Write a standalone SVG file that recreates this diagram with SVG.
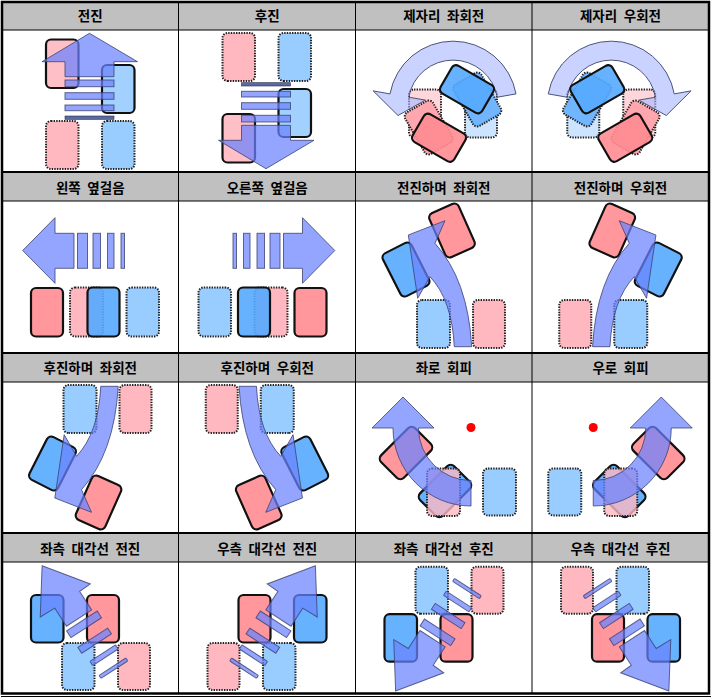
<svg xmlns="http://www.w3.org/2000/svg" width="713" height="700" viewBox="0 0 713 700">
<style>
.hf{fill:#C0C0C0}
.ln{stroke:#000;stroke-width:1;fill:none}
.lt{stroke:#000;stroke-width:2;fill:none}
.hd{font-family:"Noto Sans CJK KR","Noto Sans",sans-serif;font-weight:700;font-size:13.5px;word-spacing:3.5px;text-anchor:middle;fill:#000}
.s{stroke:#111;stroke-width:2.2;fill-opacity:.9}
.g{stroke:#222;stroke-width:2;stroke-dasharray:1.4 1.2}
.fps{fill:#FF8C91}
.fbs{fill:#55AAFF}
.fp{fill:#FFB8C0}
.fb{fill:#99CCFF}
.fp0{fill:#FFD6DB}
.fb0{fill:#CCE4FF}
.fp1{fill:#FFA6AE}
.fb1{fill:#72B5FF}
.ar{fill:#6A82FF;fill-opacity:.72;stroke:#3C4270;stroke-opacity:.8;stroke-width:1}
.band{fill:#A6B4FF;fill-opacity:.6;stroke:#4C5478;stroke-width:1}
.dk{fill:#4A5898;fill-opacity:.9;stroke:#2A2F50;stroke-width:.6}
.dot{fill:#FF0000}
</style>
<rect x="0" y="0" width="713" height="700" fill="#fff"/>
<g id="grid">
<rect class="hf" x="2" y="2" width="707" height="28"/>
<rect class="hf" x="2" y="172" width="707" height="29"/>
<rect class="hf" x="2" y="353" width="707" height="29"/>
<rect class="hf" x="2" y="533" width="707" height="29"/>
<path class="ln" d="M2,30H709M2,201H709M2,382H709M2,562H709M178.5,2V693.5M355.5,2V693.5M532,2V693.5"/>
<path class="lt" d="M2,172H709M2,353H709M2,533H709"/>
<rect x="2" y="2" width="707" height="691.5" fill="none" stroke="#000" stroke-width="2.5"/>
<path d="M1,696.5H711" stroke="#000" stroke-width="1"/>
</g>
<g id="headers">
<text class="hd" x="90.25" y="20.5">전진</text>
<text class="hd" x="267.25" y="20.5">후진</text>
<text class="hd" x="443.75" y="20.5">제자리 좌회전</text>
<text class="hd" x="620.5" y="20.5">제자리 우회전</text>
<text class="hd" x="90.25" y="192.5">왼쪽 옆걸음</text>
<text class="hd" x="267.25" y="192.5">오른쪽 옆걸음</text>
<text class="hd" x="443.75" y="192.5">전진하며 좌회전</text>
<text class="hd" x="620.5" y="192.5">전진하며 우회전</text>
<text class="hd" x="90.25" y="373">후진하며 좌회전</text>
<text class="hd" x="267.25" y="373">후진하며 우회전</text>
<text class="hd" x="443.75" y="373">좌로 회피</text>
<text class="hd" x="620.5" y="373">우로 회피</text>
<text class="hd" x="90.25" y="554">좌측 대각선 전진</text>
<text class="hd" x="267.25" y="554">우측 대각선 전진</text>
<text class="hd" x="443.75" y="554">좌측 대각선 후진</text>
<text class="hd" x="620.5" y="554">우측 대각선 후진</text>
</g>
<g id="c1">
<rect class="g fp" x="46" y="121" width="32.5" height="48" rx="5"/>
<rect class="g fb" x="102" y="121" width="32.5" height="48" rx="5"/>
<rect class="s fp" x="46" y="39.5" width="32.5" height="48.5" rx="5"/>
<rect class="s fb" x="102" y="65" width="32.5" height="48" rx="5"/>
<path class="ar" d="M89.5,33.3L137.5,61.7H114V76.7H65V61.7H42Z"/>
<rect class="ar" x="65" y="80" width="49" height="6.7"/>
<rect class="ar" x="65" y="92.7" width="49" height="6.6"/>
<rect class="ar" x="65" y="105" width="49" height="5.7"/>
<rect class="dk" x="65" y="116" width="49" height="3.3"/>
</g>
<g id="c2"><use href="#c1" transform="translate(176.5,202) scale(1,-1)"/></g>
<g id="c3">
<rect class="g fp0" x="409" y="89.5" width="32" height="48" rx="5"/>
<rect class="g fb0" x="465" y="89.5" width="32" height="48" rx="5"/>
<g transform="rotate(-30 453 113.5)">
<rect class="g fp1" x="409" y="89.5" width="32" height="48" rx="5"/>
<rect class="g fb1" x="465" y="89.5" width="32" height="48" rx="5"/>
</g>
<path class="band" d="M516,93.9A64,64 0 0 0 390,93.9L373.2,90.9L398,115.5L425.4,100.1L408.7,97.2A45,45 0 0 1 497.3,97.2Z"/>
<g transform="rotate(-60 453 113.5)">
<rect class="s fps" x="409" y="89.5" width="32" height="48" rx="5"/>
<rect class="s fbs" x="465" y="89.5" width="32" height="48" rx="5"/>
</g>
</g>
<g id="c4"><use href="#c3" transform="translate(1064.25,0) scale(-1,1)"/></g>
<g id="c5">
<rect class="g fp" x="70" y="287.5" width="33" height="49" rx="5"/>
<rect class="g fb" x="126.5" y="287.5" width="32.5" height="49" rx="5"/>
<rect class="s fps" x="31" y="288" width="32" height="48.5" rx="5"/>
<rect class="s fbs" x="87.5" y="287.5" width="32" height="49" rx="5"/>
<path class="ar" d="M22.7,250.5L55,217.7V233.3H74V268.3H55V283.3Z"/>
<rect class="ar" x="77.5" y="233.3" width="10" height="35"/>
<rect class="ar" x="93" y="233.3" width="7.5" height="35"/>
<rect class="ar" x="107.5" y="233.3" width="6.5" height="35"/>
<rect class="ar" x="121" y="233.3" width="3.5" height="35"/>
</g>
<g id="c6"><use href="#c5" transform="translate(357.5,0) scale(-1,1)"/></g>
<g id="c7">
<rect class="g fb" x="417" y="300" width="33" height="48" rx="5"/>
<rect class="g fp" x="473" y="300" width="32" height="48" rx="5"/>
<rect class="s fps" x="-16" y="-24" width="32" height="48" rx="5" transform="translate(452,230.5) rotate(-24)"/>
<rect class="s fbs" x="-16" y="-24" width="32" height="48" rx="5" transform="translate(406,269.5) rotate(-27)"/>
<path class="ar" d="M408.3,235L445,220.7L435,243.3Q468,280 471.7,346.7H454.3Q452,300 430,276.7L417.7,298.3Z"/>
</g>
<g id="c8"><use href="#c7" transform="translate(1064.25,0) scale(-1,1)"/></g>
<g id="c9"><use href="#c7" transform="translate(-353.5,733) scale(1,-1)"/></g>
<g id="c10"><use href="#c7" transform="translate(710.75,733) scale(-1,-1)"/></g>
<g id="c11">
<rect class="g fb" x="483" y="468.5" width="33" height="47" rx="5"/>
<rect class="s fbs" x="-16" y="-24" width="32" height="48" rx="5" transform="translate(445,491) rotate(45)"/>
<rect class="g fp" x="427" y="468.5" width="33" height="47.5" rx="5" fill-opacity=".8"/>
<rect class="s fps" x="-16" y="-24" width="32" height="48" rx="5" transform="translate(406,453) rotate(45)"/>
<path class="ar" d="M471,480.5V506A78,78 0 0 1 393,428H372L403,397L434,428H418.5A52.5,52.5 0 0 0 471,480.5Z"/>
<circle class="dot" cx="471" cy="427.5" r="4.5"/>
</g>
<g id="c12"><use href="#c11" transform="translate(1064.25,0) scale(-1,1)"/></g>
<g id="c13">
<rect class="g fb" x="62" y="643" width="32.5" height="47" rx="5"/>
<rect class="g fp" x="118" y="643" width="32" height="47" rx="5"/>
<rect class="s fbs" x="31" y="595" width="32.5" height="47.5" rx="5"/>
<rect class="s fps" x="87" y="595" width="32" height="47.5" rx="5"/>
<g transform="translate(41.7,566) rotate(-33)">
<path class="ar" d="M0.5,0L31,41.5L18,42V64H-12V42.5L-29,42Z"/>
<rect class="ar" x="-14.5" y="68" width="36.5" height="8"/>
<rect class="ar" x="-14" y="88" width="35.5" height="7"/>
<rect class="ar" x="-11.5" y="106.3" width="30.5" height="5" rx="1"/>
<rect class="ar" x="-11.5" y="123" width="32" height="3.5" rx="1"/>
</g>
</g>
<g id="c14"><use href="#c13" transform="translate(357.5,0) scale(-1,1)"/></g>
<g id="c15"><use href="#c13" transform="translate(353.5,1256.7) scale(1,-1)"/></g>
<g id="c16"><use href="#c13" transform="translate(711,1256.7) scale(-1,-1)"/></g>
</svg>
